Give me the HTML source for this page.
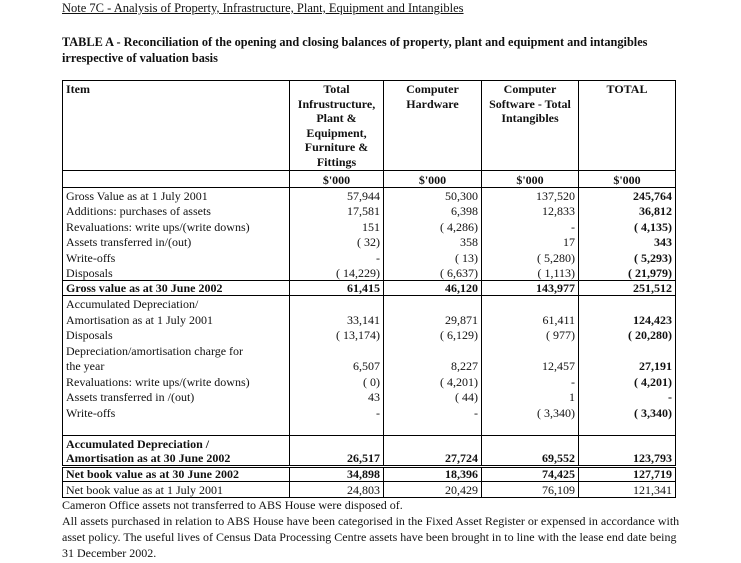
<!DOCTYPE html>
<html><head><meta charset="utf-8"><style>
body{margin:0;width:741px;height:563px;background:#fff;font-family:"Liberation Serif",serif;color:#111;position:relative;overflow:hidden}
.t{position:absolute;white-space:nowrap;font-size:12px}
table{position:absolute;left:62px;top:80px;width:613px;border-collapse:collapse;font-size:12px;table-layout:fixed}
td{border-left:1px solid #000;border-right:1px solid #000;padding:0 3px;height:15.5px;line-height:13px;vertical-align:bottom;white-space:nowrap;overflow:hidden;box-sizing:border-box}
td.n{text-align:right}
tr.h td{vertical-align:top;text-align:center;font-weight:bold;height:88px;padding-top:1px;line-height:14.6px}
tr.h td:first-child{text-align:left}
tr.u td{border-top:1px solid #000;font-weight:bold;text-align:center;height:17px}
tr.bt td{border-top:1px solid #000}
tr.bb td{border-bottom:1px solid #000}
tr.db td{border-top:3px double #000}
.b{font-weight:bold}
td.tot{font-weight:bold}
</style></head><body>
<div class="t" style="left:62px;top:1px;font-size:12.5px;text-decoration:underline">Note 7C - Analysis of Property, Infrastructure, Plant, Equipment and Intangibles</div>
<div class="t" style="left:62px;top:35px;font-size:12.3px;font-weight:bold">TABLE A - Reconciliation of the opening and closing balances of property, plant and equipment and intangibles</div>
<div class="t" style="left:62px;top:51px;font-size:12.3px;font-weight:bold">irrespective of valuation basis</div>
<table style="border:1.5px solid #000">
<colgroup><col style="width:227px"><col style="width:94px"><col style="width:98px"><col style="width:97px"><col style="width:97px"></colgroup>
<tr class="h"><td>Item</td><td>Total<br>Infrustructure,<br>Plant &amp;<br>Equipment,<br>Furniture &amp;<br>Fittings</td><td>Computer<br>Hardware</td><td>Computer<br>Software - Total<br>Intangibles</td><td>TOTAL</td></tr>
<tr class="u"><td></td><td>$'000</td><td>$'000</td><td>$'000</td><td>$'000</td></tr>
<tr class="bt"><td>Gross Value as at 1 July 2001</td><td class="n">57,944</td><td class="n">50,300</td><td class="n">137,520</td><td class="n tot">245,764</td></tr>
<tr><td>Additions: purchases of assets</td><td class="n">17,581</td><td class="n">6,398</td><td class="n">12,833</td><td class="n tot">36,812</td></tr>
<tr><td>Revaluations: write ups/(write downs)</td><td class="n">151</td><td class="n">( 4,286)</td><td class="n">-</td><td class="n tot">( 4,135)</td></tr>
<tr><td>Assets transferred in/(out)</td><td class="n">( 32)</td><td class="n">358</td><td class="n">17</td><td class="n tot">343</td></tr>
<tr><td>Write-offs</td><td class="n">-</td><td class="n">( 13)</td><td class="n">( 5,280)</td><td class="n tot">( 5,293)</td></tr>
<tr><td>Disposals</td><td class="n">( 14,229)</td><td class="n">( 6,637)</td><td class="n">( 1,113)</td><td class="n tot">( 21,979)</td></tr>
<tr class="bt bb b"><td>Gross value as at 30 June 2002</td><td class="n">61,415</td><td class="n">46,120</td><td class="n">143,977</td><td class="n">251,512</td></tr>
<tr><td>Accumulated Depreciation/</td><td></td><td></td><td></td><td></td></tr>
<tr><td>Amortisation as at 1 July 2001</td><td class="n">33,141</td><td class="n">29,871</td><td class="n">61,411</td><td class="n tot">124,423</td></tr>
<tr><td>Disposals</td><td class="n">( 13,174)</td><td class="n">( 6,129)</td><td class="n">( 977)</td><td class="n tot">( 20,280)</td></tr>
<tr><td>Depreciation/amortisation charge for</td><td></td><td></td><td></td><td></td></tr>
<tr><td>the year</td><td class="n">6,507</td><td class="n">8,227</td><td class="n">12,457</td><td class="n tot">27,191</td></tr>
<tr><td>Revaluations: write ups/(write downs)</td><td class="n">( 0)</td><td class="n">( 4,201)</td><td class="n">-</td><td class="n tot">( 4,201)</td></tr>
<tr><td>Assets transferred in /(out)</td><td class="n">43</td><td class="n">( 44)</td><td class="n">1</td><td class="n tot">-</td></tr>
<tr><td>Write-offs</td><td class="n">-</td><td class="n">-</td><td class="n">( 3,340)</td><td class="n tot">( 3,340)</td></tr>
<tr><td></td><td></td><td></td><td></td><td></td></tr>
<tr class="bt b"><td>Accumulated Depreciation /</td><td></td><td></td><td></td><td></td></tr>
<tr class="b"><td>Amortisation as at 30 June 2002</td><td class="n">26,517</td><td class="n">27,724</td><td class="n">69,552</td><td class="n">123,793</td></tr>
<tr class="db b bb"><td>Net book value as at 30 June 2002</td><td class="n">34,898</td><td class="n">18,396</td><td class="n">74,425</td><td class="n">127,719</td></tr>
<tr><td>Net book value as at 1 July 2001</td><td class="n">24,803</td><td class="n">20,429</td><td class="n">76,109</td><td class="n">121,341</td></tr>
</table>
<div class="t" style="left:62px;top:498px">Cameron Office assets not transferred to ABS House were disposed of.</div>
<div class="t" style="left:62px;top:514px">All assets purchased in relation to ABS House have been categorised in the Fixed Asset Register or expensed in accordance with</div>
<div class="t" style="left:62px;top:530px">asset policy. The useful lives of Census Data Processing Centre assets have been brought in to line with the lease end date being</div>
<div class="t" style="left:62px;top:546px">31 December 2002.</div>
</body></html>
